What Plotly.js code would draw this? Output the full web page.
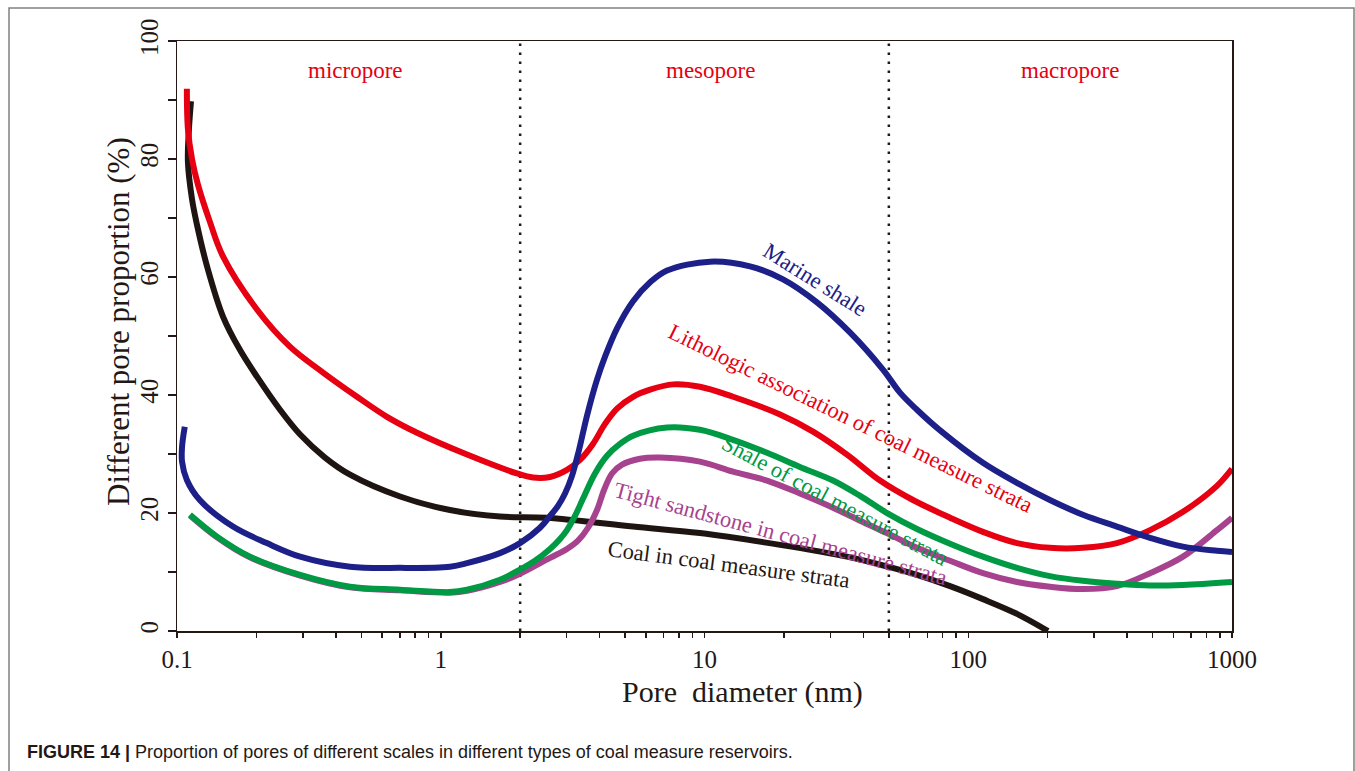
<!DOCTYPE html>
<html>
<head>
<meta charset="utf-8">
<script src="https://cdn.plot.ly/plotly-3.0.1.min.js"></script>
<style>html,body{margin:0;padding:0;background:#fff;}#chart{width:1355px;height:771px;}</style>
</head>
<body>
<div id="chart"></div>
<script>
// ---- data (pore diameter in nm, proportion in %) ----
const xLitho = [0.109,0.110,0.114,0.120,0.1334,0.1494,0.201,0.268,0.358,0.4815,0.6255,0.813,1.258,1.945,2.238,2.596,3.01,3.373,3.777,4.196,4.66,5.36,6.22,7.60,9.61,12.83,19.34,25.8,34.7,46.3,61.7,85.3,113.7,153,204,272,366,489,652,877,1000];
const yLitho = [91.9,85.1,80.0,75.7,69.3,63.5,54.5,48.2,43.8,39.7,36.3,33.6,29.9,26.7,26.0,26.1,27.3,29.0,31.7,35.1,37.7,39.7,40.9,41.8,41.4,39.7,36.7,33.8,29.9,25.5,22.2,19.2,16.8,14.9,14.1,14.1,14.9,17.1,20.2,24.6,27.5];

const xMarine = [0.107,0.1045,0.1045,0.109,0.122,0.163,0.219,0.293,0.453,0.701,1.084,1.258,1.677,1.998,2.378,2.596,2.783,2.959,3.145,3.344,3.585,3.912,4.196,4.66,5.36,6.22,7.21,10.49,14.88,19.85,26.7,35.6,47.5,55.1,63.9,78.2,113.7,153,204,272,366,489,652,877,1000];
const yMarine = [34.6,31.2,28.7,25.6,22.2,17.7,14.9,12.6,10.9,10.7,10.9,11.5,13.2,14.9,17.5,19.5,21.2,23.3,26.3,30.7,36.5,42.6,46.5,51.3,55.9,59.1,61.1,62.6,61.8,59.6,55.7,50.6,44.3,40.4,37.5,34.0,28.5,25.1,22.2,19.7,17.7,15.8,14.3,13.6,13.4];

const xShale = [0.112,0.1418,0.189,0.293,0.453,0.701,1.084,1.258,1.677,1.998,2.276,2.596,2.832,3.01,3.228,3.46,3.845,4.27,4.78,5.36,7.21,9.61,12.83,17.26,23.0,30.7,38.9,49.6,63.9,85.3,113.7,153,204,272,366,489,652,1000];
const yShale = [19.7,16.0,12.6,9.5,7.5,7.0,6.6,7.0,8.7,10.4,11.9,13.9,15.6,17.1,19.5,22.4,26.7,29.7,31.7,33.1,34.5,34.1,32.4,30.2,27.8,25.5,22.9,19.9,17.3,14.8,12.6,10.7,9.3,8.5,8.0,7.7,7.8,8.3];

const xTight = [0.112,0.1418,0.189,0.293,0.453,0.701,1.084,1.258,1.677,1.998,2.596,3.01,3.314,3.617,3.912,4.16,4.46,4.87,5.69,6.78,9.61,12.83,17.26,23.0,30.7,38.9,49.6,63.9,85.3,113.7,153,204,272,366,489,652,877,1000];
const yTight = [19.6,15.9,12.5,9.4,7.4,6.9,6.5,6.8,8.3,9.7,12.4,13.9,15.3,17.5,20.5,23.9,26.7,28.2,29.2,29.4,28.7,27.0,25.5,23.3,20.9,18.7,16.5,14.1,11.9,9.8,8.3,7.5,7.1,7.6,9.8,12.6,17.1,19.2];

const xCoal = [0.113,0.111,0.110,0.114,0.119,0.130,0.1494,0.173,0.201,0.2458,0.293,0.364,0.453,0.701,1.084,1.677,2.528,5.36,9.61,19.34,34.7,49.6,63.9,85.3,113.7,153,200.6];
const yCoal = [89.8,85.1,79.5,73.2,68.9,61.8,53.3,47.7,43.1,37.5,33.3,29.4,26.5,22.8,20.5,19.4,19.2,17.7,16.6,14.6,12.6,10.9,9.5,7.6,5.4,2.9,0];

const boundaryX = [2, 50];           // micropore/mesopore, mesopore/macropore limits (nm)
const boundaryY = [0, 100];
const xTickVals = [0.1,0.2,0.3,0.4,0.5,0.6,0.7,0.8,0.9,1,2,3,4,5,6,7,8,9,10,20,30,40,50,60,70,80,90,100,200,300,400,500,600,700,800,900,1000];
const xTickText = ['0.1','','','','','','','','','1','','','','','','','','','10','','','','','','','','','100','','','','','','','','','1000'];
const yTickVals = [0,10,20,30,40,50,60,70,80,90,100];
const yTickText = ['0','','20','','40','','60','','80','','100'];
const regionNames = ['micropore','mesopore','macropore'];

// ---- chart ----
const SERIF = 'Liberation Serif, Times New Roman, serif';
const INK = '#231815';
const W = 6;

function line(x, y, color, name) {
  return {x: x, y: y, type: 'scatter', mode: 'lines', name: name,
          line: {color: color, width: W, shape: 'spline', smoothing: 1},
          hoverinfo: 'skip', showlegend: false};
}

const traces = [
  {x: [boundaryX[0], boundaryX[0]], y: boundaryY, type: 'scatter', mode: 'lines',
   line: {color: INK, width: 2.5, dash: '2.5px,6.5px'}, showlegend: false, hoverinfo: 'skip'},
  {x: [boundaryX[1], boundaryX[1]], y: boundaryY, type: 'scatter', mode: 'lines',
   line: {color: INK, width: 2.5, dash: '2.5px,6.5px'}, showlegend: false, hoverinfo: 'skip'},
  line(xCoal, yCoal, '#1e1512', 'Coal in coal measure strata'),
  line(xTight, yTight, '#a7428f', 'Tight sandstone in coal measure strata'),
  line(xShale, yShale, '#009944', 'Shale of coal measure strata'),
  line(xLitho, yLitho, '#e60012', 'Lithologic association of coal measure strata'),
  line(xMarine, yMarine, '#1d2088', 'Marine shale')
];

function px2paperX(px) { return (px - 177) / 1055; }
function px2paperY(py) { return (631 - py) / 590; }

function lab(text, px, py, color, angle, size) {
  return {text: text, xref: 'paper', yref: 'paper', x: px2paperX(px), y: px2paperY(py),
          xanchor: 'center', yanchor: 'middle', showarrow: false, textangle: angle,
          font: {family: SERIF, size: size || 22.5, color: color}};
}

const annotations = [
  lab(regionNames[0], 355, 70, '#e60012', 0, 23),
  lab(regionNames[1], 710, 70, '#e60012', 0, 23),
  lab(regionNames[2], 1070, 70, '#e60012', 0, 23),
  lab('Marine shale', 815, 279, '#1d2088', 32),
  lab('Lithologic association of coal measure strata', 851, 418, '#e60012', 26),
  lab('Shale of coal measure strata', 835, 500, '#009944', 28),
  lab('Tight sandstone in coal measure strata', 780, 533, '#a7428f', 15),
  lab('Coal in coal measure strata', 729, 564, INK, 7.5),
  // axis titles (placed like the original, off-centre)
  lab('Pore&nbsp;&nbsp;diameter (nm)', 742, 692, INK, 0, 30),
  lab('Different pore proportion (%)', 118, 322, INK, -90, 31),
  {text: '<b>FIGURE 14 |</b> Proportion of pores of different scales in different types of coal measure reservoirs.',
   xref: 'paper', yref: 'paper', x: px2paperX(25), y: px2paperY(752), xanchor: 'left', yanchor: 'middle',
   showarrow: false, font: {family: 'Liberation Sans Narrow, Arial Narrow, Liberation Sans, Arial, sans-serif', size: 18, color: INK}}
];

const layout = {
  width: 1355, height: 771,
  margin: {l: 177, r: 123, t: 41, b: 140},
  paper_bgcolor: '#ffffff', plot_bgcolor: '#ffffff',
  showlegend: false,
  xaxis: {
    type: 'log', range: [-1, 3], showgrid: false, zeroline: false,
    showline: true, mirror: true, linecolor: INK, linewidth: 1.5,
    ticks: 'outside', ticklen: 5, tickwidth: 1.5, tickcolor: INK,
    tickmode: 'array', tickvals: xTickVals, ticktext: xTickText,
    tickfont: {family: SERIF, size: 25, color: INK}
  },
  yaxis: {
    range: [0, 100], showgrid: false, zeroline: false,
    showline: true, mirror: true, linecolor: INK, linewidth: 1.5,
    ticks: 'outside', ticklen: 8, tickwidth: 1.5, tickcolor: INK,
    tickmode: 'array', tickvals: yTickVals, ticktext: yTickText, tickangle: -90,
    tickfont: {family: SERIF, size: 25, color: INK}
  },
  annotations: annotations,
  shapes: [{type: 'rect', xref: 'paper', yref: 'paper',
            x0: px2paperX(9), x1: px2paperX(1354), y0: px2paperY(800), y1: px2paperY(8),
            line: {color: '#808080', width: 1.5}, fillcolor: 'rgba(0,0,0,0)', layer: 'below'}]
};

Plotly.newPlot('chart', traces, layout, {displayModeBar: false, staticPlot: true});
</script>
</body>
</html>
